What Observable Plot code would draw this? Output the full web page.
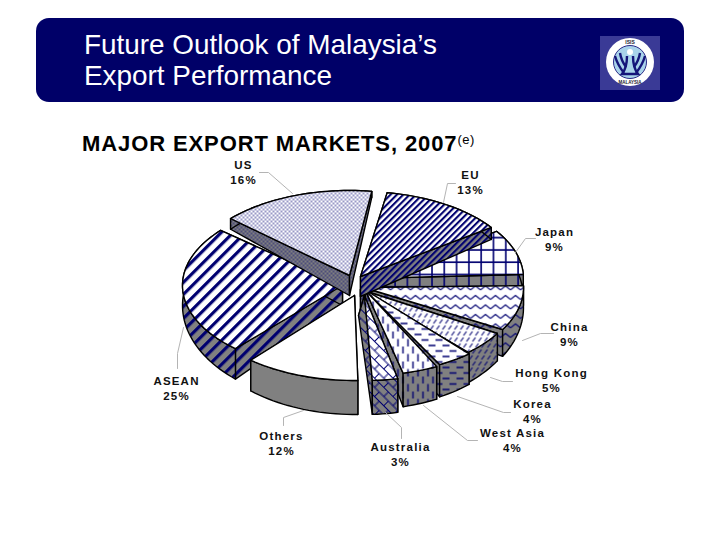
<!DOCTYPE html>
<html><head><meta charset="utf-8">
<script src="https://cdn.jsdelivr.net/npm/d3@7"></script>
<script src="https://cdn.jsdelivr.net/npm/@observablehq/plot@0.6"></script>
<style>
html,body{margin:0;padding:0;background:#fff;width:720px;height:540px;overflow:hidden;font-family:"Liberation Sans",Arial,sans-serif}
#banner{position:absolute;left:36px;top:18px;width:648px;height:84px;background:#000068;border-radius:13px}
#t1,#t2{position:absolute;left:48px;color:#fff;font-size:27.9px;line-height:31px;white-space:nowrap}
#t1{top:11px}#t2{top:42px}
#logo{position:absolute;left:564px;top:18px}
#sub{position:absolute;left:82px;top:130px;font-weight:bold;font-size:22px;line-height:28px;letter-spacing:.9px;color:#000;white-space:nowrap}
#sub sup{font-size:13px;line-height:0;font-weight:normal;letter-spacing:.5px;vertical-align:7px}
#chart{position:absolute;left:0;top:150px}
</style></head><body>
<div id="banner"><div id="t1">Future Outlook of Malaysia’s</div><div id="t2">Export Performance</div>
<svg id="logo" width="60" height="54" viewBox="0 0 60 54">
<rect width="60" height="54" fill="#3a3a96"/><circle cx="30" cy="26" r="24" fill="#fff"/>
<circle cx="30" cy="26" r="16.5" fill="#a9d3ea" stroke="#2a2a88"/>
<circle cx="30" cy="16" r="3" fill="#fff"/>
<g fill="none" stroke="#15157a" stroke-width="2.4"><path d="M27 20c0 8-1 13-5 18h16c-4-5-5-10-5-18"/><path d="M15 20c2 7 5 12 9 17"/><path d="M45 20c-2 7-5 12-9 17"/><path d="M20 17c1 6 3 10 6 14"/><path d="M40 17c-1 6-3 10-6 14"/></g>
<text x="30" y="8" text-anchor="middle" font-size="5" font-weight="bold" fill="#223">ISIS</text>
<text x="30" y="48" text-anchor="middle" font-size="4.5" font-weight="bold" fill="#223">MALAYSIA</text>
</svg></div>
<div id="sub">MAJOR EXPORT MARKETS, 2007<sup>(e)</sup></div>
<div id="chart"></div>
<script>
// Data, clockwise from the top of the pie
const markets = ["EU","Japan","China","Hong Kong","Korea","West Asia","Australia","Others","ASEAN","US"];
const shares  = [13,9,9,5,4,4,3,12,25,16];

// Layout of the exploded pie
const center = [358,284], rx = 160, ry = 85, startDeg = 8.8, gapDeg = 0.8;
const pullX = [2,5,5,2,6,7,6,-4,-16,-9];
const pullY = [-8,-6,3,5,5,6,11,11,1,-9];
const paintOrder = ["ASEAN","US","Japan","China","Hong Kong","Korea","West Asia","EU","Others","Australia"];
const labelX = [470,554,569,551,532,512,400,281,176,243];
const labelY = [181,238,333,379,410,439,453,442,387,171];
const leaders = [
 [[455,183],[447,183],[443,202]],
 [[535,238],[525,238],[515,252]],
 [[553,333],[540,333],[522,340]],
 [[490,377],[502,381],[512,381]],
 [[457,396],[503,412],[510,412]],
 [[423,405],[467,440],[477,440]],
 [[385,412],[401,427],[401,438]],
 [[303,410],[283,417],[283,425]],
 [[183,327],[177,353],[177,368]],
 [[259,172],[268,172],[292,193]]
];

const ink = "#000070", wallGrey = "#808080";
const tiles = [
 {w:4.5,h:4.5,rot:45,ink:`<rect width="2.1" height="4.5" fill="${ink}"/>`},
 {w:12.3,h:12.3,ink:`<path d="M1 0V12.3M0 1H12.3" stroke="${ink}" stroke-width="1.6" fill="none"/>`},
 {w:10,h:9.5,ink:`<path d="M0 6.5L5 2.5L10 6.5" stroke="${ink}" stroke-width="1.2" fill="none"/>`},
 {w:6,h:12,ink:`<path d="M1 5L4 1M4 11L7 7M-2 11L1 7" stroke="${ink}" stroke-width="1.1" fill="none"/>`},
 {w:14,h:11,ink:`<path d="M1 2.5H8M8 8H15M-6 8H1" stroke="${ink}" stroke-width="1.4" fill="none"/>`},
 {w:10,h:15,ink:`<path d="M2.5 1V8M7.5 8.5V15M7.5 -6.5V1" stroke="${ink}" stroke-width="1.4" fill="none"/>`},
 {w:13,h:13,rot:45,ink:`<path d="M0 .5H13M0 7H13M3 .5V7M9.5 7V13" stroke="${ink}" stroke-width="1" fill="none"/>`},
 null,
 {w:8.5,h:8.5,rot:45,ink:`<rect width="3.2" height="8.5" fill="${ink}"/>`},
 {w:4,h:4,ink:`<circle cx="1" cy="1" r=".75" fill="${ink}"/><circle cx="3" cy="3" r=".75" fill="${ink}"/>`}
];

function patternDefs(){
  const defs = document.createElementNS("http://www.w3.org/2000/svg","defs");
  defs.innerHTML = tiles.map((t,i)=>{
    if(!t) return "";
    const tr = t.rot ? `patternTransform="rotate(${t.rot})"` : "";
    const one = (id,bg)=>`<pattern id="${id}${i}" patternUnits="userSpaceOnUse" width="${t.w}" height="${t.h}" ${tr}><rect width="${t.w}" height="${t.h}" fill="${bg}"/>${t.ink}</pattern>`;
    return one("top","#fff")+one("wall",wallGrey);
  }).join("");
  return defs;
}

// Wedge angles come from the shares
let acc = startDeg;
const wedges = markets.map((name,i)=>{
  const a0 = acc; acc += shares[i]*3.6;
  return {name,i,a0:a0+gapDeg,a1:acc-gapDeg,ax:center[0]+pullX[i],ay:center[1]+pullY[i]};
});
const rad = d=>d*Math.PI/180;
const topPt = (w,deg,r)=>[w.ax+r*rx*Math.sin(rad(deg)), w.ay-r*ry*Math.cos(rad(deg))];
const botPt = (w,deg,r)=>{
  const [x,y]=topPt(w,deg,r);
  const skew = (w.name==="Australia") ? -6*(1-r) : 0;
  return [x+skew, y+20+14*r*(-Math.cos(rad(deg)))];
};
const arcDegs = w=>{ const n=Math.ceil((w.a1-w.a0)/2); return d3.range(n+1).map(k=>w.a0+(w.a1-w.a0)*k/n); };

const face = (pts,fill)=>Plot.line([...pts,pts[0]],{x:d=>d[0],y:d=>d[1],fill,stroke:"#000",strokeWidth:1.4,strokeLinejoin:"round"});
const marks = [patternDefs];
for(const nm of paintOrder){
  const w = wedges.find(d=>d.name===nm);
  const wf = tiles[w.i] ? `url(#wall${w.i})` : wallGrey;
  const tf = tiles[w.i] ? `url(#top${w.i})` : "#fff";
  const degs = arcDegs(w);
  marks.push(face([topPt(w,w.a0,0),topPt(w,w.a0,1),botPt(w,w.a0,1),botPt(w,w.a0,0)],wf));
  marks.push(face([topPt(w,w.a1,0),topPt(w,w.a1,1),botPt(w,w.a1,1),botPt(w,w.a1,0)],wf));
  marks.push(face([...degs.map(d=>topPt(w,d,1)),...degs.slice().reverse().map(d=>botPt(w,d,1))],wf));
  marks.push(face([topPt(w,w.a0,0),...degs.map(d=>topPt(w,d,1))],tf));
}
leaders.forEach(l=>marks.push(Plot.line(l,{x:d=>d[0],y:d=>d[1],stroke:"#b4b4b4",strokeWidth:1})));
marks.push(Plot.text(markets.map((m,i)=>({t:`${m}\n${shares[i]}%`,x:labelX[i],y:labelY[i]})),
  {x:"x",y:"y",text:"t",fontSize:11.5,fontWeight:"bold",fill:"#111",lineHeight:1.3,lineAnchor:"middle"}));

document.getElementById("chart").append(Plot.plot({
  width:720,height:340,margin:0,
  x:{domain:[0,720],range:[0,720],axis:null},
  y:{domain:[150,490],range:[0,340],axis:null},
  style:{fontFamily:"Liberation Sans, Arial, sans-serif",letterSpacing:"1.2px",background:"transparent",overflow:"visible"},
  marks
}));
</script>
</body></html>
